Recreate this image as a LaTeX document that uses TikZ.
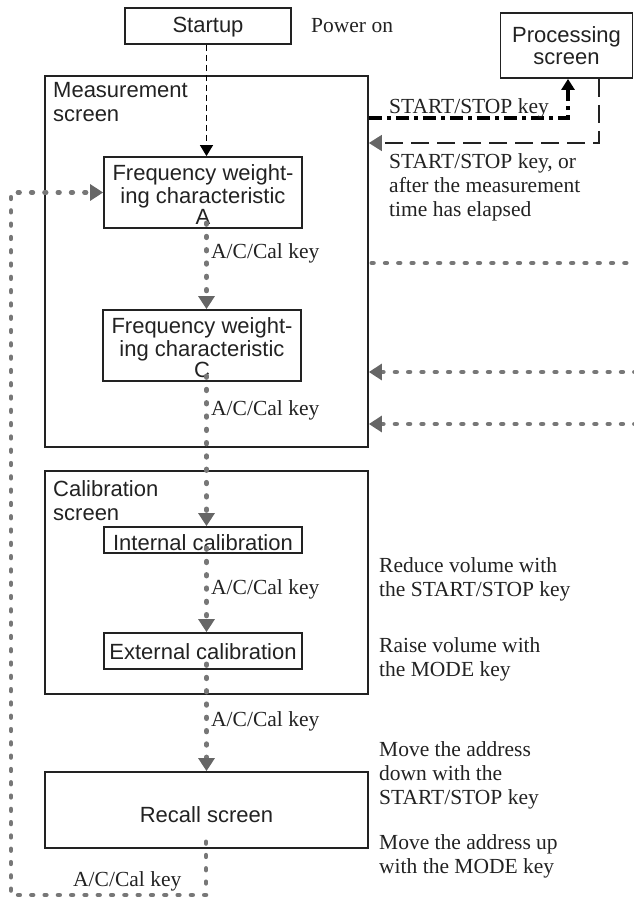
\documentclass[tikz,border=0pt]{standalone}
\usepackage{fontspec}
\setmainfont{Liberation Serif}
\newfontfamily\boxfont{Liberation Sans}
\usetikzlibrary{arrows.meta}
\definecolor{ink}{HTML}{222222}
\definecolor{dotgray}{HTML}{777777}
\definecolor{headgray}{HTML}{666666}
\begin{document}
\begin{tikzpicture}[x=1pt,y=-1pt,
  boxstyle/.style={draw=ink, line width=1.8pt, text=ink, font=\boxfont\fontsize{22}{21.5}\selectfont, align=center, inner sep=0pt, minimum width=198pt},
  framestyle/.style={draw=ink, line width=1.8pt, inner sep=0pt, minimum width=323pt},
  lbl/.style={text=ink, font=\fontsize{21.5}{24}\selectfont, align=left, inner sep=0pt, anchor=west},
  baselbl/.style={text=ink, font=\fontsize{21.5}{24}\selectfont, inner sep=0pt, anchor=base west},
  sectlbl/.style={text=ink, font=\boxfont\fontsize{22}{24}\selectfont, align=left, inner sep=0pt, anchor=north west},
  dotline/.style={draw=dotgray, line width=4.8pt, line cap=round, dash pattern=on 1.5pt off 11.8pt},
  grayhead/.style={-{Triangle[width=16pt,length=13pt,color=headgray]}},
  blackhead/.style={-{Triangle[width=13pt,length=11pt,color=black]}},
  thindash/.style={draw=black, line width=1.2pt, dash pattern=on 6pt off 4pt},
  dashdotline/.style={draw=black, line width=4pt, dash pattern=on 13pt off 5pt on 4pt off 5pt},
  longdash/.style={draw=ink, line width=1.8pt, dash pattern=on 18pt off 8pt}
]
\useasboundingbox (0,0) rectangle (634,899);

% frames
\node[framestyle, minimum height=371pt] (meas) at (206.5,261.5) {};
\node[framestyle, minimum height=223pt] (cal) at (206.5,582.5) {};
\node[framestyle, minimum height=76pt, text=ink, font=\boxfont\fontsize{22}{22.5}\selectfont] (recall) at (206.5,810) {\raisebox{-12pt}[0pt][0pt]{Recall screen}};

\node[sectlbl] (measlbl) at (53,82) {Measurement\\screen};
\node[sectlbl] (callbl) at (53,480) {Calibration\\screen};

% boxes
\node[boxstyle, minimum width=166pt, minimum height=36pt] (startup) at (208,26) {\raisebox{-7pt}[0pt][0pt]{Startup}};
\node[boxstyle, minimum height=71pt] (fA) at (203,192.5) {\raisebox{-10.7pt}[0pt][0pt]{\begin{tabular}{@{}c@{}}Frequency weight-\\ing characteristic\\A\end{tabular}}};
\node[boxstyle, minimum height=71pt] (fC) at (202,345.5) {\raisebox{-10.7pt}[0pt][0pt]{\begin{tabular}{@{}c@{}}Frequency weight-\\ing characteristic\\C\end{tabular}}};
\node[boxstyle, minimum height=26pt] (int) at (203,540) {\raisebox{-10pt}[0pt][0pt]{Internal calibration}};
\node[boxstyle, minimum height=36pt] (ext) at (203,651) {\raisebox{-8pt}[0pt][0pt]{External calibration}};
\node[boxstyle, minimum width=132pt, minimum height=65pt] (proc) at (566.5,45.5) {Processing\\screen};

% coordinates
\coordinate (ax) at (206.5,0);
\coordinate (dd) at (568,118);
\coordinate (ld) at (599,143);
\coordinate (r1) at (636,263);
\coordinate (r2) at (636,372);
\coordinate (r3) at (636,424);
\coordinate (bl) at (11,895);
\coordinate (bb) at (206,895);

% connectors
\draw[thindash, blackhead] (startup.south -| ax) -- (fA.north -| ax);
\draw[dotline, grayhead] ([yshift=6pt]fA.south -| ax) -- (fC.north -| ax);
\draw[dotline, grayhead] ([yshift=6pt]fC.south -| ax) -- (int.north -| ax);
\draw[dotline, grayhead] ([yshift=6pt]int.south -| ax) -- (ext.north -| ax);
\draw[dotline, grayhead] ([yshift=6pt]ext.south -| ax) -- (recall.north -| ax);
\draw[dotline, grayhead] ([yshift=7pt]recall.south -| bb) -- (bb) -- (bl) -- (bl |- fA.west) -- (fA.west);

\draw[dashdotline, blackhead] (meas.east |- dd) -- (dd) -- (dd |- proc.south);
\draw[longdash, grayhead] (proc.south -| ld) -- (ld) -- (ld -| meas.east);

\draw[dotline] ([xshift=3pt]meas.east |- r1) -- (r1);
\draw[dotline, grayhead] (r2) -- (r2 -| meas.east);
\draw[dotline, grayhead] (r3) -- (r3 -| meas.east);

% labels
\node[baselbl] (pwr) at (311,33) {Power on};
\node[baselbl] (ss1) at (389,113) {START/STOP key};
\node[lbl] (ss2) at (389,187) {START/STOP key, or\\after the measurement\\time has elapsed};
\node[baselbl] (k1) at (211,258) {A/C/Cal key};
\node[baselbl] (k2) at (211,415) {A/C/Cal key};
\node[baselbl] (k3) at (211,594) {A/C/Cal key};
\node[baselbl] (k4) at (211,726) {A/C/Cal key};
\node[baselbl] (k5) at (73,886) {A/C/Cal key};
\node[lbl] (rv) at (379,579) {Reduce volume with\\the START/STOP key};
\node[lbl] (rs) at (379,659) {Raise volume with\\the MODE key};
\node[lbl] (md) at (379,775) {Move the address\\down with the\\START/STOP key};
\node[lbl] (mu) at (379,856) {Move the address up\\with the MODE key};
\end{tikzpicture}
\end{document}
